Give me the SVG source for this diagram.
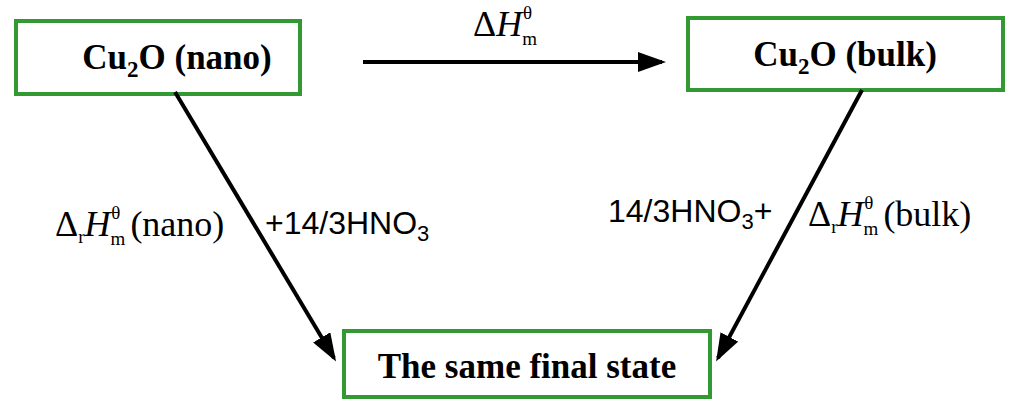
<svg xmlns="http://www.w3.org/2000/svg" width="1024" height="409" viewBox="0 0 1024 409">
<style>
.box{fill:#fff;stroke:#339933;stroke-width:4}
.bt{font-family:"Liberation Serif",serif;font-weight:bold;font-size:35px;fill:#000}
.st{font-family:"Liberation Serif",serif;font-size:36px;fill:#000}
.at{font-family:"Liberation Sans",sans-serif;font-size:32px;fill:#000}
.c{stroke:#000;stroke-width:4;fill:none}
</style>
<defs><marker id="ah" markerWidth="7" markerHeight="5" refX="6" refY="2.5" orient="auto"><path d="M0,0L7,2.5L0,5z" fill="#000"/></marker></defs>
<g id="nano"><rect class="box" x="16" y="21" width="284" height="73"/><text class="bt" x="177" y="69" text-anchor="middle">Cu<tspan font-size="23" dy="8">2</tspan><tspan dy="-8">O (nano)</tspan></text></g>
<g id="bulk"><rect class="box" x="688" y="18" width="315" height="72"/><text class="bt" x="845" y="66" text-anchor="middle">Cu<tspan font-size="23" dy="8">2</tspan><tspan dy="-8">O (bulk)</tspan></text></g>
<g id="final"><rect class="box" x="344" y="331" width="366" height="66"/><text class="bt" x="527" y="378" text-anchor="middle" font-size="36">The same final state</text></g>
<g id="connectors">
<line class="c" x1="363" y1="62" x2="662" y2="62" marker-end="url(#ah)"/>
<line class="c" x1="175" y1="92" x2="334" y2="358" marker-end="url(#ah)"/>
<line class="c" x1="862" y1="90" x2="718" y2="358" marker-end="url(#ah)"/>
</g>
<g id="labels">
<text class="st" x="473" y="36">Δ<tspan font-style="italic">H</tspan><tspan font-size="19" dy="9">m</tspan><tspan font-size="19" dx="-14" dy="-26">θ</tspan></text>
<text class="st" x="55" y="236">Δ<tspan font-size="19" dy="7">r</tspan><tspan font-style="italic" dy="-7">H</tspan><tspan font-size="19" dy="9">m</tspan><tspan font-size="19" dx="-14" dy="-26">θ</tspan><tspan dx="10" dy="17">(nano)</tspan></text>
<text class="at" x="265" y="234">+14/3HNO<tspan font-size="22" dy="7">3</tspan></text>
<text class="at" x="608" y="222">14/3HNO<tspan font-size="22" dy="7">3</tspan><tspan dy="-7">+</tspan></text>
<text class="st" x="808" y="226">Δ<tspan font-size="19" dy="7">r</tspan><tspan font-style="italic" dy="-7">H</tspan><tspan font-size="19" dy="9">m</tspan><tspan font-size="19" dx="-14" dy="-26">θ</tspan><tspan dx="10" dy="17">(bulk)</tspan></text>
</g>
</svg>
